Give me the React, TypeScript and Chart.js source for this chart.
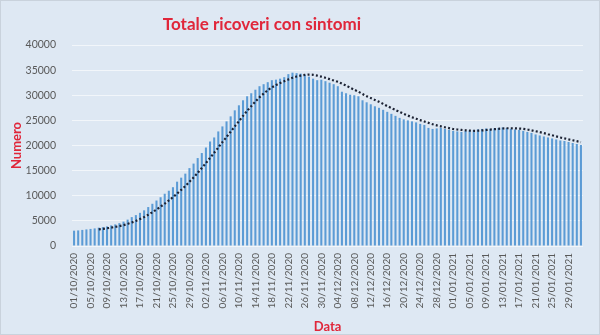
import React, { useEffect, useRef } from 'react';
import { Chart, registerables } from 'chart.js';

Chart.register(...registerables);

// ---- data ----
const TITLE = 'Totale ricoveri con sintomi';
const Y_TITLE = 'Numero';
const X_TITLE = 'Data';
const START_YEAR = 2020;
const START_MONTH = 9; // October (0-based)
const START_DAY = 1;
const LABEL_STEP = 4;
const MA_PERIOD = 7;
const Y_MIN = 0;
const Y_MAX = 40000;
const Y_STEP = 5000;

const octValues = [
  3050, 3100, 3200, 3300, 3400, 3500, 3650, 3750, 3900, 4100, 4300, 4550, 4850, 5250, 5750, 6150,
  6600, 7100, 7750, 8400, 9050, 9700, 10400, 11000, 11700, 12800, 13600, 14400, 15500, 16400, 17500,
];
const novValues = [
  18500, 19600, 20800, 21600, 22800, 23800, 24800, 25800, 27000, 28000, 29000, 29800, 30400, 31100,
  31800, 32200, 32600, 33000, 33100, 33300, 33600, 34200, 34500, 34400, 34300, 34100, 33700, 33300,
  33000, 33100,
];
const decValues = [
  32800, 32500, 32200, 31800, 30700, 30400, 30100, 30000, 29800, 29000, 28600, 28200, 27800, 27500,
  27100, 26700, 26300, 25900, 25500, 25200, 25000, 24800, 24600, 24300, 24100, 23500, 23300, 23400,
  23500, 23300, 23100,
];
const janFebValues = [
  22900, 22800, 22700, 22900, 23000, 23100, 23200, 23300, 23400, 23300, 23400, 23500, 23600, 23500,
  23300, 23200, 23100, 22900, 22700, 22500, 22200, 22000, 21800, 21600, 21400, 21200, 21000, 20900,
  20700, 20500, 20300, 20100,
];

const values: number[] = [...octValues, ...novValues, ...decValues, ...janFebValues];

const pad2 = (n: number) => (n < 10 ? '0' + n : '' + n);
const labels: string[] = values.map((_, i) => {
  const d = new Date(Date.UTC(START_YEAR, START_MONTH, START_DAY + i));
  return `${pad2(d.getUTCDate())}/${pad2(d.getUTCMonth() + 1)}/${d.getUTCFullYear()}`;
});

// moving-average trendline (as in the spreadsheet trendline)
const movingAvg: (number | null)[] = values.map((_, i) => {
  if (i < MA_PERIOD - 1) return null;
  let s = 0;
  for (let k = i - MA_PERIOD + 1; k <= i; k++) s += values[k];
  return s / MA_PERIOD;
});

// ---- styles ----
const BG = '#dee8f3';
const RED = '#e0263a';
const TICK = '#595959';
const FONT = 'Lato, "Open Sans", sans-serif';

export default function App() {
  const ref = useRef<HTMLCanvasElement>(null);

  useEffect(() => {
    const canvas = ref.current;
    if (!canvas) return;

    const decor = {
      id: 'decor',
      beforeDraw(chart: any) {
        const { ctx, width, height } = chart;
        ctx.save();
        ctx.fillStyle = BG;
        ctx.fillRect(0, 0, width, height);
        ctx.strokeStyle = '#c9d2dc';
        ctx.lineWidth = 1;
        ctx.strokeRect(0.5, 0.5, width - 1, height - 1);
        ctx.restore();
      },
      afterDraw(chart: any) {
        const { ctx } = chart;
        ctx.save();
        ctx.fillStyle = RED;
        ctx.font = `bold 17px ${FONT}`;
        ctx.textAlign = 'center';
        ctx.textBaseline = 'middle';
        ctx.fillText(TITLE, 262, 25);
        ctx.restore();
      },
    };

    const chart = new Chart(canvas, {
      type: 'bar',
      data: {
        labels,
        datasets: [
          {
            type: 'line',
            data: movingAvg,
            borderColor: '#1c2233',
            borderWidth: 2.2,
            borderDash: [2, 2.2],
            pointRadius: 0,
            fill: false,
            tension: 0.3,
            order: 0,
            spanGaps: false,
          } as any,
          {
            type: 'bar',
            data: values,
            backgroundColor: '#5b9bd5',
            barPercentage: 0.5,
            categoryPercentage: 1.0,
            order: 1,
          },
        ],
      },
      options: {
        responsive: false,
        animation: false,
        devicePixelRatio: 1,
        layout: { padding: { top: 45, right: 17, bottom: 0, left: 0 } },
        plugins: {
          legend: { display: false },
          tooltip: { enabled: false },
          title: { display: false },
        },
        scales: {
          x: {
            grid: { display: false, drawTicks: false },
            border: { display: false },
            ticks: {
              autoSkip: false,
              maxRotation: 90,
              minRotation: 90,
              padding: 7,
              color: TICK,
              font: { family: FONT, size: 10 },
              callback: (_v: any, i: number) => (i % LABEL_STEP === 0 ? labels[i] : ''),
            },
            title: {
              display: true,
              text: X_TITLE,
              color: RED,
              font: { family: FONT, size: 13, weight: 'bold' },
              padding: { top: 2, bottom: 0 },
            },
            afterFit: (s: any) => {
              s.height = 89;
            },
          },
          y: {
            min: Y_MIN,
            max: Y_MAX,
            grid: { color: 'rgba(255,255,255,0.6)', drawTicks: false },
            border: { display: false },
            ticks: {
              stepSize: Y_STEP,
              padding: 16,
              color: TICK,
              font: { family: FONT, size: 10.5 },
              callback: (v: any) => String(v),
            },
            title: {
              display: true,
              text: Y_TITLE,
              color: RED,
              font: { family: FONT, size: 13, weight: 'bold' },
              padding: { top: 9, bottom: 0 },
            },
            afterFit: (s: any) => {
              s.width = 72;
            },
          },
        },
      } as any,
      plugins: [decor],
    });

    return () => chart.destroy();
  }, []);

  return (
    <div style={{ position: 'absolute', left: 0, top: 0, width: 600, height: 335 }}>
      <canvas ref={ref} width={600} height={335} style={{ display: 'block' }} />
    </div>
  );
}
